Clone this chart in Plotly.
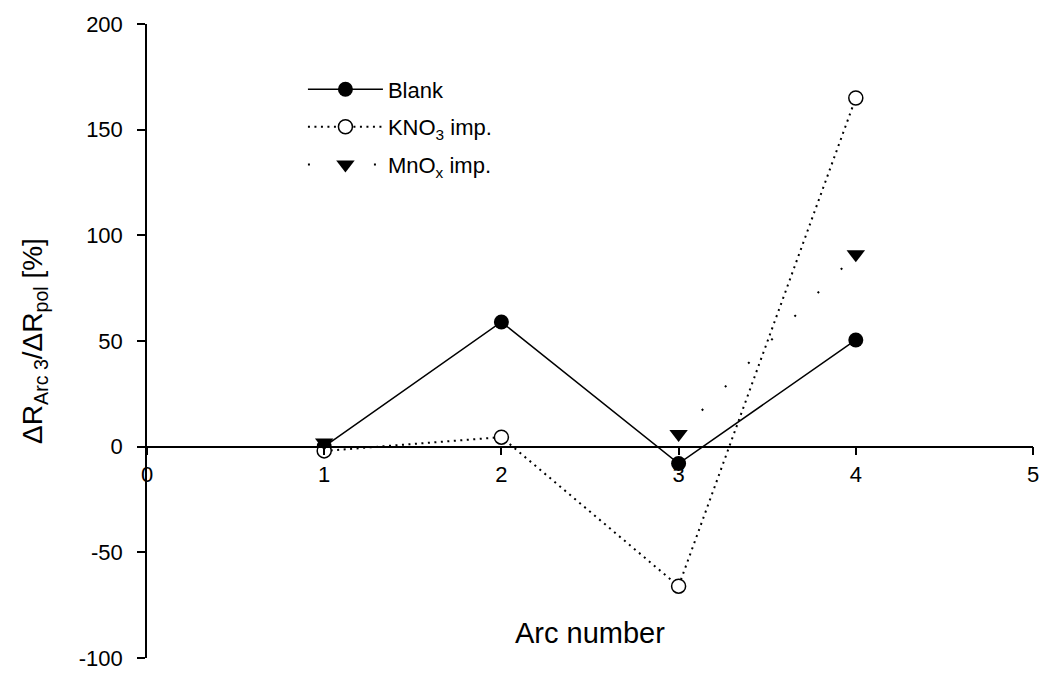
import plotly.graph_objects as go

arc = [1, 2, 3, 4]
blank = [0, 59, -8, 50.5]
kno3 = [-2, 4.5, -66, 165]
mnox = [2, None, 6, 91]

x_ticks = [0, 1, 2, 3, 4, 5]
y_ticks = [-100, -50, 0, 50, 100, 150, 200]
y_ticktext = ["-100", "-50", "0", "50", "100", "150", "200"]

FONT = "Liberation Sans, Arial, sans-serif"

fig = go.Figure()
fig.add_trace(go.Scatter(
    x=arc, y=blank, name="Blank", mode="lines+markers", legendgroup="a",
    line=dict(color="black", width=1.5),
    marker=dict(symbol="circle", size=15, color="black"),
))
fig.add_trace(go.Scatter(
    x=arc, y=kno3, name="KNO<sub>3</sub> imp.", mode="lines+markers", legendgroup="b",
    line=dict(color="black", width=2, dash="2px,4.5px"),
    marker=dict(symbol="circle", size=14, color="white", line=dict(width=1.5, color="black")),
))
fig.add_trace(go.Scatter(
    x=arc, y=mnox, name="MnO<sub>x</sub> imp.", mode="lines+markers", legendgroup="c",
    connectgaps=False,
    line=dict(color="black", width=2, dash="2px,31px"),
    marker=dict(symbol="triangle-down", size=16, color="black"),
))

fig.update_layout(
    width=1051, height=683,
    margin=dict(l=147, r=13, t=20, b=20),
    plot_bgcolor="white", paper_bgcolor="white",
    font=dict(family=FONT, size=22, color="black"),
    showlegend=True,
    legend=dict(x=0.176, y=0.93, xanchor="left", yanchor="top",
                bgcolor="rgba(0,0,0,0)", tracegroupgap=6, itemwidth=75,
                font=dict(size=22)),
    xaxis=dict(range=[0, 5], tickvals=x_ticks, showgrid=False,
               zeroline=False, showline=True, linecolor="black", linewidth=1.5,
               ticks="outside", ticklen=8, tickwidth=1.5, tickcolor="black",
               anchor="free", position=1/3, tickfont=dict(size=22)),
    yaxis=dict(range=[-100, 200], tickvals=y_ticks, ticktext=y_ticktext,
               showgrid=False, zeroline=False, showline=True, linecolor="black",
               linewidth=1.5, ticks="outside", ticklen=8, tickwidth=1.5,
               tickcolor="black", tickfont=dict(size=22), ticklabelstandoff=10,
               title=dict(text="ΔR<sub>Arc 3</sub>/ΔR<sub>pol</sub> [%]",
                          font=dict(size=28), standoff=28)),
    annotations=[dict(text="Arc number", xref="paper", yref="paper",
                      x=0.5, y=0.04, showarrow=False,
                      font=dict(size=29), xanchor="center", yanchor="middle")],
)

fig.write_html("out.html")
